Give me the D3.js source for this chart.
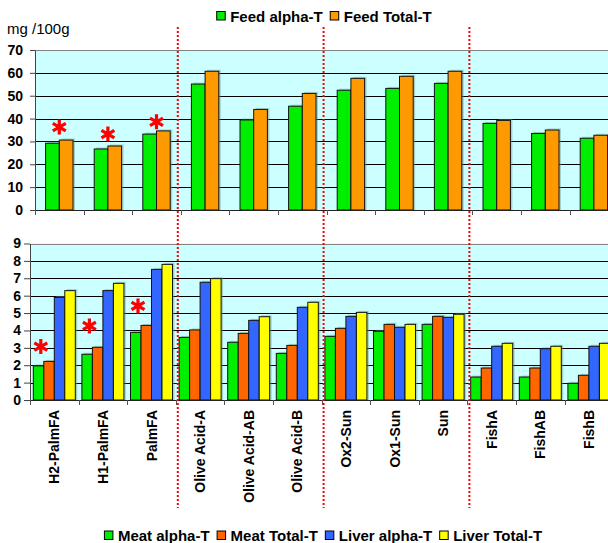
<!DOCTYPE html>
<meta charset="utf-8">
<style>
  body { margin: 0; background: #fff; }
  text { font-family: Arial, 'Liberation Sans', sans-serif; }
</style>
<div id="chart"></div>
<script src="https://d3js.org/d3.v7.min.js"></script>
<script>

    const categories = ["H2-PalmFA", "H1-PalmFA", "PalmFA", "Olive Acid-A", "Olive Acid-AB", "Olive Acid-B",
                        "Ox2-Sun", "Ox1-Sun", "Sun", "FishA", "FishAB", "FishB"];

    // top panel (feed)
    const feedSeries = ["Feed alpha-T", "Feed Total-T"];
    const feedAlpha  = [29.2, 26.7, 33.2, 55.1, 39.4, 45.4, 52.4, 53.2, 55.4, 37.9, 33.5, 31.4];
    const feedTotal  = [30.6, 28.0, 34.6, 60.7, 44.0, 51.0, 57.6, 58.5, 60.7, 39.2, 35.0, 32.7];
    const topTicks   = [0, 10, 20, 30, 40, 50, 60, 70];

    // bottom panel (meat / liver)
    const tissueSeries = ["Meat alpha-T", "Meat Total-T", "Liver alpha-T", "Liver Total-T"];
    const meatAlpha  = [1.96, 2.63, 3.89, 3.60, 3.32, 2.68, 3.66, 3.95, 4.35, 1.32, 1.32, 0.96];
    const meatTotal  = [2.22, 3.03, 4.29, 4.03, 3.83, 3.14, 4.12, 4.35, 4.81, 1.84, 1.84, 1.42];
    const liverAlpha = [5.90, 6.29, 7.51, 6.77, 4.58, 5.33, 4.81, 4.18, 4.75, 3.09, 2.95, 3.09];
    const liverTotal = [6.29, 6.71, 7.80, 6.98, 4.79, 5.62, 5.04, 4.35, 4.93, 3.26, 3.09, 3.26];
    const bottomTicks = [0, 1, 2, 3, 4, 5, 6, 7, 8, 9];

    // asterisks: [category, value]
    const topStars    = [["H2-PalmFA", 36.3], ["H1-PalmFA", 33.2], ["PalmFA", 38.6]];
    const bottomStars = [["H2-PalmFA", 3.07], ["H1-PalmFA", 4.26], ["PalmFA", 5.41]];

    // red dotted separators after these categories
    const groupEnds = ["PalmFA", "Olive Acid-B", "Sun"];

    const colors = {
        "Feed alpha-T": "#00ee00", "Feed Total-T": "#ff9900",
        "Meat alpha-T": "#00ee00", "Meat Total-T": "#ff6600",
        "Liver alpha-T": "#3366ff", "Liver Total-T": "#ffff00"
    };

    const width = 608, height = 543;
    const svg = d3.select("#chart").append("svg")
                  .attr("width", width).attr("height", height);

    const feedRows = categories.map((c, i) => ({cat: c, vals: [feedAlpha[i], feedTotal[i]]}));
    const tissueRows = categories.map((c, i) => ({cat: c, vals: [meatAlpha[i], meatTotal[i], liverAlpha[i], liverTotal[i]]}));

    // six-armed asterisk, r = arm length
    function starPath(r) {
        const p = d3.path();
        [90, 30, 150].forEach(a => {
            const t = a * Math.PI / 180;
            p.moveTo(-r * Math.cos(t), -r * Math.sin(t));
            p.lineTo(r * Math.cos(t), r * Math.sin(t));
        });
        return p.toString();
    }

    function panel(opt) {
        const x = d3.scaleBand().domain(categories).range([opt.left, opt.left + 12 * 48.6]);
        const y = d3.scaleLinear().domain([0, opt.max]).range([opt.bottom, opt.top]);
        const bw = x.bandwidth();
        const x1 = d3.scaleBand().domain(opt.series)
                     .range([(bw - opt.groupW) / 2, (bw + opt.groupW) / 2]);

        const g = svg.append("g");
        g.append("rect")
         .attr("x", opt.left).attr("y", y(opt.max))
         .attr("width", width - opt.left).attr("height", y(0) - y(opt.max))
         .attr("fill", "#ccffff");

        g.selectAll("line.grid")
         .data(opt.ticks.filter(t => t > 0))
         .join("line")
         .attr("class", "grid")
         .attr("x1", opt.left).attr("x2", width)
         .attr("y1", d => Math.round(y(d)) + 0.5).attr("y2", d => Math.round(y(d)) + 0.5)
         .attr("stroke", d => d === opt.max ? "#808080" : "#000")
         .attr("stroke-width", 1);

        const groups = g.selectAll("g.cat")
                        .data(opt.rows)
                        .join("g")
                        .attr("transform", d => `translate(${x(d.cat)},0)`);

        // light shadow
        groups.selectAll("rect.sh")
              .data(d => d.vals.map((v, i) => ({s: opt.series[i], v: v})))
              .join("rect")
              .attr("x", d => x1(d.s) + 2).attr("y", d => y(d.v) - 1.5)
              .attr("width", x1.bandwidth()).attr("height", d => y(0) - y(d.v) + 1.5)
              .attr("fill", "#6f9a9a").attr("opacity", 0.45);

        groups.selectAll("rect.bar")
              .data(d => d.vals.map((v, i) => ({s: opt.series[i], v: v})))
              .join("rect")
              .attr("class", "bar")
              .attr("x", d => x1(d.s)).attr("y", d => y(d.v))
              .attr("width", x1.bandwidth()).attr("height", d => y(0) - y(d.v))
              .attr("fill", d => colors[d.s])
              .attr("stroke", "#111").attr("stroke-width", 1);

        // y axis
        const ya = g.append("g")
                    .attr("transform", `translate(${opt.left},0)`)
                    .call(d3.axisLeft(y).tickValues(opt.ticks).tickSize(opt.tick).tickPadding(opt.pad).tickSizeOuter(0));
        ya.select(".domain").attr("stroke", "#444");
        ya.selectAll(".tick line").attr("stroke", "#444");
        ya.selectAll("text")
          .attr("font-family", "Arial, 'Liberation Sans', sans-serif")
          .attr("font-size", 14).attr("font-weight", "bold").attr("fill", "#000");

        // x axis line and boundary ticks
        g.append("line")
         .attr("x1", opt.left).attr("x2", width)
         .attr("y1", y(0) + 0.5).attr("y2", y(0) + 0.5)
         .attr("stroke", "#222");
        g.selectAll("line.xt")
         .data(categories)
         .join("line")
         .attr("class", "xt")
         .attr("x1", d => Math.round(x(d)) + 0.5).attr("x2", d => Math.round(x(d)) + 0.5)
         .attr("y1", y(0)).attr("y2", y(0) + 5)
         .attr("stroke", "#555");

        // asterisks
        g.selectAll("path.star")
         .data(opt.stars)
         .join("path")
         .attr("class", "star")
         .attr("transform", d => `translate(${x(d[0]) + opt.starX(x1)},${y(d[1])})`)
         .attr("d", starPath(7.5))
         .attr("fill", "none")
         .attr("stroke", "#ff0000").attr("stroke-width", 3.2);

        return x;
    }

    panel({rows: feedRows, series: feedSeries, left: 35, top: 50, bottom: 210, max: 70,
           ticks: topTicks, tick: 5, pad: 7, groupW: 27.4, stars: topStars,
           starX: x1 => x1.range()[0] + (x1.range()[1] - x1.range()[0]) / 2});

    const xb = panel({rows: tissueRows, series: tissueSeries, left: 30, top: 243.5, bottom: 400, max: 9,
           ticks: bottomTicks, tick: 6, pad: 3, groupW: 42, stars: bottomStars,
           starX: x1 => x1("Meat Total-T") - 3});

    // category labels, rotated
    svg.append("g").selectAll("text")
       .data(categories)
       .join("text")
       .attr("transform", d => `translate(${xb(d) + xb.bandwidth() / 2 + 5},410) rotate(-90)`)
       .attr("text-anchor", "end")
       .attr("font-size", 14).attr("font-weight", "bold")
       .text(d => d);

    // red dotted separators
    svg.append("g").selectAll("line")
       .data(groupEnds)
       .join("line")
       .attr("x1", d => xb(d) + xb.bandwidth() + 2).attr("x2", d => xb(d) + xb.bandwidth() + 2)
       .attr("y1", 27).attr("y2", 508)
       .attr("stroke", "#ff0000").attr("stroke-width", 2)
       .attr("stroke-dasharray", "2,2");

    svg.append("text")
       .attr("x", 7).attr("y", 34)
       .attr("font-size", 15)
       .text("mg /100g");

    function legend(series, cx, baseline) {
        const lg = svg.append("g");
        let pos = 0;
        series.forEach(s => {
            const it = lg.append("g").attr("transform", `translate(${pos},0)`);
            it.append("rect")
              .attr("x", 0.5).attr("y", baseline - 10)
              .attr("width", 8.5).attr("height", 8.5)
              .attr("fill", colors[s]).attr("stroke", "#000");
            const t = it.append("text")
                        .attr("x", 14).attr("y", baseline)
                        .attr("font-size", 15).attr("font-weight", "bold")
                        .text(s);
            pos += 14 + t.node().getComputedTextLength() + 7;
        });
        lg.attr("transform", `translate(${cx - (pos - 7) / 2},0)`);
    }

    legend(feedSeries, 324, 21.5);
    legend(tissueSeries, 323, 541);

</script>
